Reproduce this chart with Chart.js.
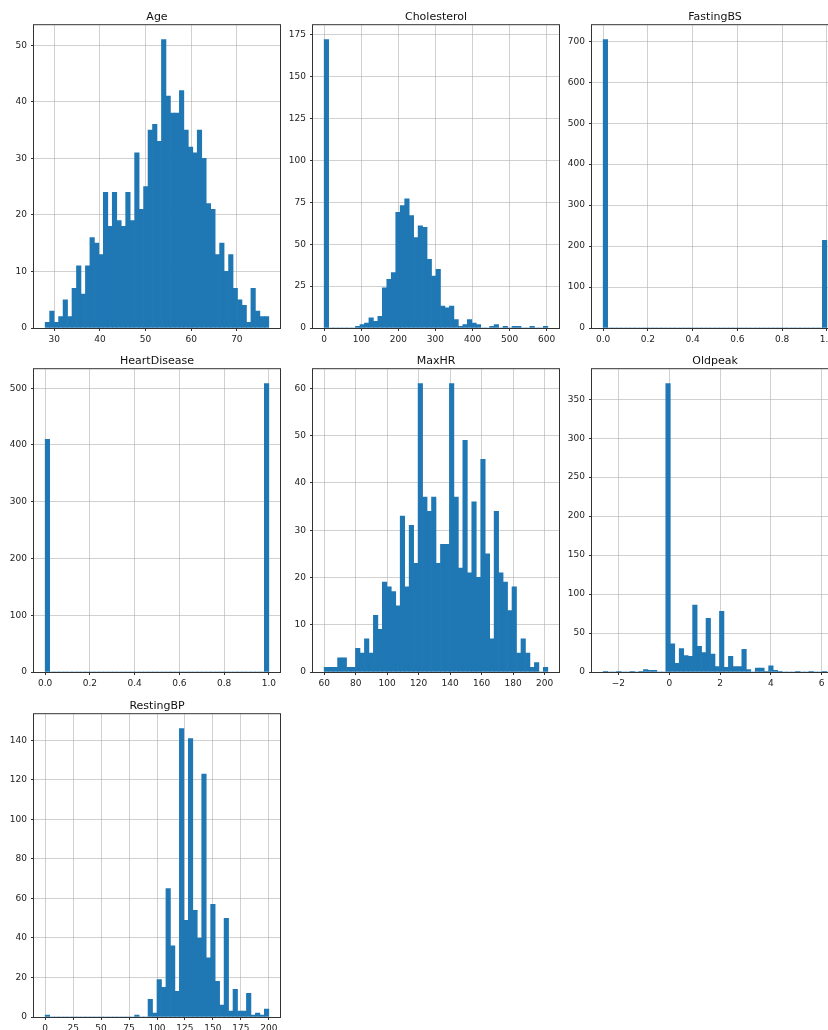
<!DOCTYPE html>
<html>
<head>
<meta charset="utf-8">
<title>Histograms</title>
<script src="https://cdn.jsdelivr.net/npm/chart.js@4.4.1/dist/chart.umd.min.js"></script>
<style>
  html, body { margin: 0; padding: 0; background: #fff; }
  #figure { position: relative; width: 828px; height: 1030px; overflow: hidden; }
  #figure canvas { position: absolute; }
</style>
</head>
<body>
<div id="figure"></div>
<script>
// counts per bin (50 bins over the data range)
const ageCounts = [1, 3, 1, 2, 5, 2, 7, 11, 6, 11, 16, 15, 13, 24, 18, 24, 19, 18, 24, 19,
  31, 21, 25, 35, 36, 33, 51, 41, 38, 38, 42, 35, 32, 31, 35, 30, 22, 21, 13, 15,
  10, 13, 7, 5, 4, 1, 7, 3, 2, 2];
const cholesterolCounts = [172, 0, 0, 0, 0, 0, 0, 1, 2, 3, 6, 4, 7, 24, 29, 33, 69, 73, 77, 67,
  54, 61, 60, 41, 31, 35, 13, 12, 13, 5, 1, 2, 5, 3, 2, 0, 0, 1, 2, 0,
  1, 0, 1, 1, 0, 0, 1, 0, 0, 1];
const fastingBSCounts = [704, 0, 0, 0, 0, 0, 0, 0, 0, 0, 0, 0, 0, 0, 0, 0, 0, 0, 0, 0,
  0, 0, 0, 0, 0, 0, 0, 0, 0, 0, 0, 0, 0, 0, 0, 0, 0, 0, 0, 0,
  0, 0, 0, 0, 0, 0, 0, 0, 0, 214];
const heartDiseaseCounts = [410, 0, 0, 0, 0, 0, 0, 0, 0, 0, 0, 0, 0, 0, 0, 0, 0, 0, 0, 0,
  0, 0, 0, 0, 0, 0, 0, 0, 0, 0, 0, 0, 0, 0, 0, 0, 0, 0, 0, 0,
  0, 0, 0, 0, 0, 0, 0, 0, 0, 508];
const maxHRCounts = [1, 1, 1, 3, 3, 1, 1, 5, 4, 7, 4, 12, 9, 19, 18, 17, 14, 33, 18, 31,
  23, 61, 37, 34, 37, 23, 27, 27, 61, 37, 22, 49, 21, 36, 20, 45, 25, 7, 34, 21,
  19, 13, 18, 4, 7, 4, 1, 2, 0, 1];
const oldpeakCounts = [1, 0, 0, 1, 0, 0, 1, 0, 1, 3, 2, 2, 0, 0, 370, 36, 11, 30, 21, 20,
  86, 33, 25, 69, 23, 7, 78, 6, 20, 7, 7, 29, 3, 0, 5, 5, 1, 8, 2, 1,
  0, 0, 0, 1, 0, 0, 1, 0, 0, 1];
const restingBPCounts = [1, 0, 0, 0, 0, 0, 0, 0, 0, 0, 0, 0, 0, 0, 0, 0, 0, 0, 0, 0,
  1, 0, 0, 9, 2, 19, 15, 65, 36, 13, 146, 49, 141, 54, 40, 123, 30, 57, 18, 6,
  50, 3, 14, 3, 3, 12, 1, 2, 1, 4];

// data range (min, max) of each column
const ageRange = [28, 77];
const cholesterolRange = [0, 603];
const fastingBSRange = [0, 1];
const heartDiseaseRange = [0, 1];
const maxHRRange = [60, 202];
const oldpeakRange = [-2.6, 6.2];
const restingBPRange = [0, 200];

// tick values
const ageXTicks = [30, 40, 50, 60, 70];
const ageYTicks = [0, 10, 20, 30, 40, 50];
const cholesterolXTicks = [0, 100, 200, 300, 400, 500, 600];
const cholesterolYTicks = [0, 25, 50, 75, 100, 125, 150, 175];
const unitXTicks = [0, 0.2, 0.4, 0.6, 0.8, 1.0];
const fastingBSYTicks = [0, 100, 200, 300, 400, 500, 600, 700];
const heartDiseaseYTicks = [0, 100, 200, 300, 400, 500];
const maxHRXTicks = [60, 80, 100, 120, 140, 160, 180, 200];
const maxHRYTicks = [0, 10, 20, 30, 40, 50, 60];
const oldpeakXTicks = [-2, 0, 2, 4, 6];
const oldpeakYTicks = [0, 50, 100, 150, 200, 250, 300, 350];
const restingBPXTicks = [0, 25, 50, 75, 100, 125, 150, 175, 200];
const restingBPYTicks = [0, 20, 40, 60, 80, 100, 120, 140];

const BINS = 50;
const COL_LEFT = [34, 313, 592];
const ROW_TOP = [24, 368, 713];
const AX_W = 246, AX_H = 304;
const PAD_L = 40, PAD_T = 20, PAD_R = 16, PAD_B = 24;
const FONT = "'DejaVu Sans', sans-serif";
const GRID = 'rgba(176, 176, 176, 0.6)';

const fmtInt = v => String(v);
const fmtOne = v => v.toFixed(1);
const fmtMinus = v => (v < 0 ? '\u2212' + Math.abs(v) : String(v));

const panels = [
  { title: 'Age', counts: ageCounts, range: ageRange, xTicks: ageXTicks, yTicks: ageYTicks, fmt: fmtInt, col: 0, row: 0 },
  { title: 'Cholesterol', counts: cholesterolCounts, range: cholesterolRange, xTicks: cholesterolXTicks, yTicks: cholesterolYTicks, fmt: fmtInt, col: 1, row: 0 },
  { title: 'FastingBS', counts: fastingBSCounts, range: fastingBSRange, xTicks: unitXTicks, yTicks: fastingBSYTicks, fmt: fmtOne, col: 2, row: 0 },
  { title: 'HeartDisease', counts: heartDiseaseCounts, range: heartDiseaseRange, xTicks: unitXTicks, yTicks: heartDiseaseYTicks, fmt: fmtOne, col: 0, row: 1 },
  { title: 'MaxHR', counts: maxHRCounts, range: maxHRRange, xTicks: maxHRXTicks, yTicks: maxHRYTicks, fmt: fmtInt, col: 1, row: 1 },
  { title: 'Oldpeak', counts: oldpeakCounts, range: oldpeakRange, xTicks: oldpeakXTicks, yTicks: oldpeakYTicks, fmt: fmtMinus, col: 2, row: 1 },
  { title: 'RestingBP', counts: restingBPCounts, range: restingBPRange, xTicks: restingBPXTicks, yTicks: restingBPYTicks, fmt: fmtInt, col: 0, row: 2 },
];

// axes frame on all four sides, like matplotlib spines
const framePlugin = {
  id: 'frame',
  afterDraw(chart) {
    const a = chart.chartArea;
    const ctx = chart.ctx;
    ctx.save();
    ctx.strokeStyle = '#333';
    ctx.lineWidth = 1;
    ctx.strokeRect(a.left - 0.5, a.top - 0.5, a.right - a.left + 1, a.bottom - a.top + 1);
    ctx.restore();
  }
};

const figure = document.getElementById('figure');

function drawHist(p) {
  const lo = p.range[0], hi = p.range[1];
  const span = hi - lo;
  const binW = span / BINS;
  const data = p.counts.map((c, i) => ({ x: lo + (i + 0.5) * binW, y: c }));

  const canvas = document.createElement('canvas');
  canvas.width = AX_W + PAD_L + PAD_R;
  canvas.height = AX_H + PAD_T + PAD_B;
  canvas.style.left = (COL_LEFT[p.col] - PAD_L) + 'px';
  canvas.style.top = (ROW_TOP[p.row] - PAD_T) + 'px';
  figure.appendChild(canvas);

  const tickFont = { family: FONT, size: 9 };

  new Chart(canvas, {
    type: 'bar',
    data: {
      datasets: [{
        data: data,
        backgroundColor: '#1f77b4',
        borderWidth: 0,
        barPercentage: 1,
        categoryPercentage: 1,
      }],
    },
    options: {
      responsive: false,
      animation: false,
      layout: { padding: { left: 0, top: 0, right: PAD_R, bottom: 0 } },
      plugins: {
        legend: { display: false },
        tooltip: { enabled: false },
        title: {
          display: true,
          text: p.title,
          fullSize: false,
          color: '#111',
          font: { family: FONT, size: 11, weight: 'normal' },
          padding: { top: 7, bottom: 1 },
        },
      },
      scales: {
        x: {
          type: 'linear',
          min: lo - 0.05 * span,
          max: hi + 0.05 * span,
          offset: false,
          z: 1,
          afterFit: (s) => { s.height = PAD_B; },
          afterBuildTicks: (s) => { s.ticks = p.xTicks.map((v) => ({ value: v })); },
          grid: { color: GRID, lineWidth: 1, offset: false, drawTicks: true, tickLength: 3, tickColor: '#333' },
          border: { display: false },
          ticks: { color: '#222', font: tickFont, padding: 3, maxRotation: 0, autoSkip: false, callback: p.fmt },
        },
        y: {
          type: 'linear',
          min: 0,
          max: Math.max(...p.counts) * 1.05,
          z: 1,
          afterFit: (s) => { s.width = PAD_L; },
          afterBuildTicks: (s) => { s.ticks = p.yTicks.map((v) => ({ value: v })); },
          grid: { color: GRID, lineWidth: 1, drawTicks: true, tickLength: 3, tickColor: '#333' },
          border: { display: false },
          ticks: { color: '#222', font: tickFont, padding: 4, autoSkip: false, callback: fmtInt },
        },
      },
    },
    plugins: [framePlugin],
  });
}

panels.forEach(drawHist);
</script>
</body>
</html>
